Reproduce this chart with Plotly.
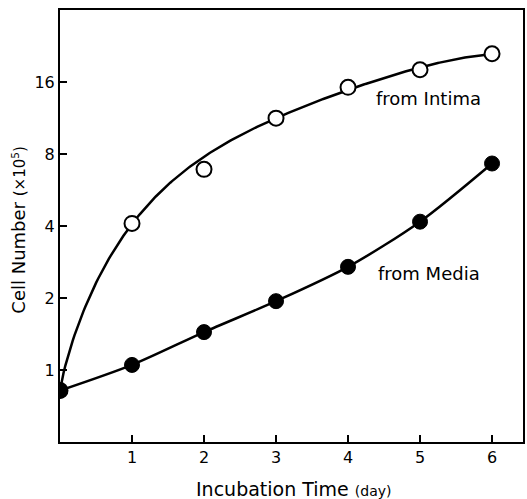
import plotly.graph_objects as go
import numpy as np
import math

days = [0, 1, 2, 3, 4, 5, 6]
intima = [0.82, 4.1, 7.2, 11.3, 15.2, 18.0, 21.0]
intima_marks = [0.82, 4.1, 6.9, 11.3, 15.2, 18.0, 21.0]
media = [0.82, 1.05, 1.44, 1.94, 2.7, 4.17, 7.3]
y_ticks = [1, 2, 4, 8, 16]
x_ticks = [1, 2, 3, 4, 5, 6]
fit_weights = [3, 3, 1, 2, 2, 2, 3]

FONT = "DejaVu Sans, Verdana, sans-serif"

# smooth hand-drawn-like curve for intima: weighted fit of log2(y) against day**0.85
u = np.power(days, 0.85)
coef = np.polyfit(u, np.log2(intima), 4, w=fit_weights)
xs = np.linspace(0, 6, 240)
ys = 2 ** np.polyval(coef, np.power(xs, 0.85))

fig = go.Figure()
fig.add_trace(go.Scatter(x=xs, y=ys, mode="lines",
                         line=dict(color="black", width=2.5), showlegend=False, hoverinfo="skip"))
fig.add_trace(go.Scatter(
    x=days, y=intima_marks, mode="markers",
    marker=dict(size=15, color="white", line=dict(color="black", width=2)),
    showlegend=False))
fig.add_trace(go.Scatter(
    x=days, y=media, mode="lines+markers",
    line=dict(color="black", width=2.5, shape="spline", smoothing=0.8),
    marker=dict(size=15, color="black", line=dict(color="black", width=1)),
    showlegend=False))

fig.add_annotation(x=5.12, y=math.log10(13.7), text="from Intima", showarrow=False,
                   font=dict(family=FONT, size=18, color="black"))
fig.add_annotation(x=5.12, y=math.log10(2.52), text="from Media", showarrow=False,
                   font=dict(family=FONT, size=18, color="black"))

fig.add_annotation(x=-0.09, y=0.49, xref="paper", yref="paper", textangle=-90,
                   xanchor="center", yanchor="middle",
                   text="Cell Number <span style='font-size:15px'>(×10<sup>5</sup>)</span>",
                   showarrow=False, font=dict(family=FONT, size=18, color="black"))
fig.add_annotation(x=0.505, y=-0.108, xref="paper", yref="paper", yanchor="middle",
                   text="Incubation Time <span style='font-size:14px'>(day)</span>",
                   showarrow=False, font=dict(family=FONT, size=19, color="black"))

fig.update_xaxes(range=[0, 6.43], tickvals=x_ticks, ticks="inside", ticklen=7,
                 tickwidth=2, tickcolor="black", showline=True, linewidth=2,
                 linecolor="black", mirror=True, showgrid=False, zeroline=False,
                 tickfont=dict(family=FONT, size=16, color="black"))
fig.update_yaxes(type="log", range=[math.log10(0.5), math.log10(32)], tickvals=y_ticks,
                 ticktext=[str(v) for v in y_ticks], ticks="inside", ticklen=7,
                 tickwidth=2, tickcolor="black", showline=True, linewidth=2,
                 linecolor="black", mirror=True, showgrid=False, zeroline=False,
                 tickfont=dict(family=FONT, size=16, color="black"))

fig.update_layout(width=527, height=499, margin=dict(l=60, r=2, t=10, b=57),
                  plot_bgcolor="white", paper_bgcolor="white")
fig.write_html("out.html")
